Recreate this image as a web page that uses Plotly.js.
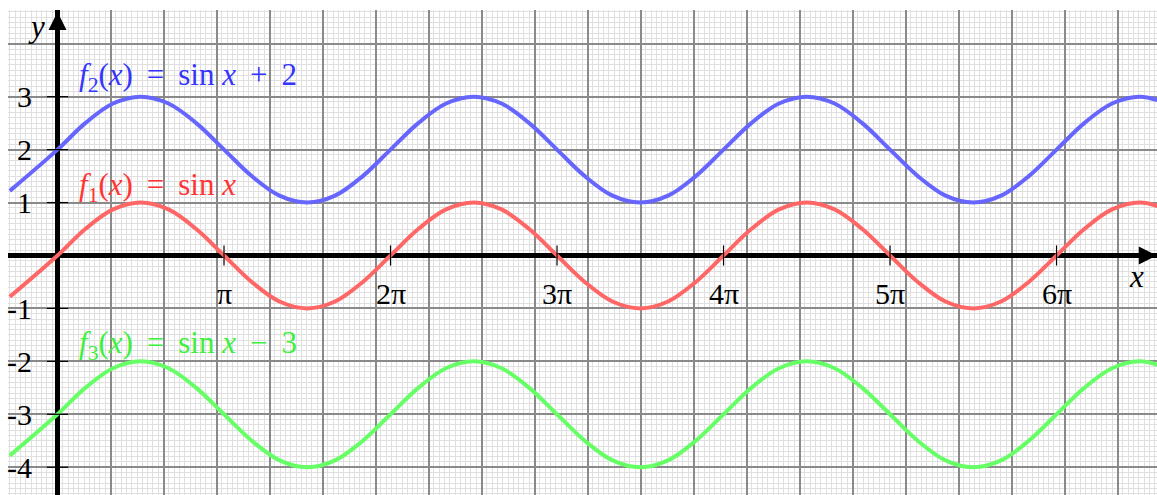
<!DOCTYPE html>
<html>
<head>
<meta charset="utf-8">
<script src="https://cdn.plot.ly/plotly-3.0.1.min.js"></script>
<style>
html,body{margin:0;padding:0;background:#fff;}
#chart{width:1157px;height:495px;}
</style>
</head>
<body>
<div id="chart"></div>
<script>
// ---- data ----
const xs = [-0.9, 0, 0.524, 1.047, 1.571, 2.094, 2.618, 3.142, 3.665, 4.189, 4.712, 5.236, 5.760,
  6.283, 6.807, 7.330, 7.854, 8.378, 8.901, 9.425, 9.948, 10.472, 10.996, 11.519, 12.043,
  12.566, 13.090, 13.614, 14.137, 14.661, 15.184, 15.708, 16.232, 16.755, 17.279, 17.802, 18.326,
  18.850, 19.373, 19.897, 20.420, 20.944];
const f1 = [-0.78, 0, 0.5, 0.87, 1, 0.87, 0.5, 0, -0.5, -0.87, -1, -0.87, -0.5,
  0, 0.5, 0.87, 1, 0.87, 0.5, 0, -0.5, -0.87, -1, -0.87, -0.5,
  0, 0.5, 0.87, 1, 0.87, 0.5, 0, -0.5, -0.87, -1, -0.87, -0.5,
  0, 0.5, 0.87, 1, 0.87];
const f2 = [1.22, 2, 2.5, 2.87, 3, 2.87, 2.5, 2, 1.5, 1.13, 1, 1.13, 1.5,
  2, 2.5, 2.87, 3, 2.87, 2.5, 2, 1.5, 1.13, 1, 1.13, 1.5,
  2, 2.5, 2.87, 3, 2.87, 2.5, 2, 1.5, 1.13, 1, 1.13, 1.5,
  2, 2.5, 2.87, 3, 2.87];
const f3 = [-3.78, -3, -2.5, -2.13, -2, -2.13, -2.5, -3, -3.5, -3.87, -4, -3.87, -3.5,
  -3, -2.5, -2.13, -2, -2.13, -2.5, -3, -3.5, -3.87, -4, -3.87, -3.5,
  -3, -2.5, -2.13, -2, -2.13, -2.5, -3, -3.5, -3.87, -4, -3.87, -3.5,
  -3, -2.5, -2.13, -2, -2.13];
const xTickVals = [3.1416, 6.2832, 9.4248, 12.5664, 15.708, 18.8496];
const xTickText = ['π', '2π', '3π', '4π', '5π', '6π'];
const yTickVals = [3, 2, 1, -1, -2, -3, -4];
const yTickText = ['3', '2', '1', '-1', '-2', '-3', '-4'];
const seriesNames = [
  '<i>f</i><sub>2</sub>(<i>x</i>)&nbsp;&#8201;=&nbsp;&#8201;sin&nbsp;<i>x</i>&nbsp;&#8201;+&nbsp;&#8201;2',
  '<i>f</i><sub>1</sub>(<i>x</i>)&nbsp;&#8201;=&nbsp;&#8201;sin&nbsp;<i>x</i>',
  '<i>f</i><sub>3</sub>(<i>x</i>)&nbsp;&#8201;=&nbsp;&#8201;sin&nbsp;<i>x</i>&nbsp;&#8201;−&nbsp;&#8201;3'];

// ---- styling ----
const FONT = 'Liberation Serif, Times New Roman, serif';
const lineColors = ['#6666ff', '#ff6666', '#66ff66'];
const textColors = ['#3535ff', '#ff3535', '#3ef03e'];
const labelPos = [[0.36, 3.38], [0.36, 1.3], [0.36, -1.7]];
const series = [f2, f1, f3];

const traces = series.map((ys, i) => ({
  x: xs, y: ys, type: 'scatter', mode: 'lines',
  line: {color: lineColors[i], width: 4, shape: 'spline', smoothing: 1},
  hoverinfo: 'skip', showlegend: false
}));

const shapes = [];
yTickVals.forEach(v => shapes.push({type: 'line', xref: 'x', yref: 'y',
  x0: -0.2, x1: 0.2, y0: v, y1: v, line: {color: '#000', width: 1.2}}));
xTickVals.forEach(v => shapes.push({type: 'line', xref: 'x', yref: 'y',
  x0: v, x1: v, y0: -0.19, y1: 0.19, line: {color: '#000', width: 1.2}}));

const annotations = [];
yTickVals.forEach((v, i) => annotations.push({x: -0.44, y: v, xref: 'x', yref: 'y',
  text: yTickText[i], showarrow: false, xanchor: 'right', yanchor: 'middle',
  font: {family: FONT, size: 30, color: '#000'}}));
xTickVals.forEach((v, i) => annotations.push({x: v, y: -0.72, xref: 'x', yref: 'y',
  text: xTickText[i], showarrow: false, xanchor: 'center', yanchor: 'middle',
  font: {family: FONT, size: 30, color: '#000'}}));
seriesNames.forEach((t, i) => annotations.push({x: labelPos[i][0], y: labelPos[i][1],
  xref: 'x', yref: 'y', text: t, showarrow: false, xanchor: 'left', yanchor: 'middle',
  font: {family: FONT, size: 31, color: textColors[i]}}));
annotations.push({x: -0.39, y: 4.32, xref: 'x', yref: 'y', text: '<i>y</i>', showarrow: false,
  xanchor: 'center', yanchor: 'middle', font: {family: FONT, size: 31, color: '#000'}});
annotations.push({x: 20.35, y: -0.4, xref: 'x', yref: 'y', text: '<i>x</i>', showarrow: false,
  xanchor: 'center', yanchor: 'middle', font: {family: FONT, size: 31, color: '#000'}});
// arrow heads
annotations.push({x: 0, y: 4.6, ax: 0, ay: 4.2, xref: 'x', yref: 'y', axref: 'x', ayref: 'y',
  text: '', showarrow: true, arrowhead: 2, arrowsize: 0.8, arrowwidth: 4.5, arrowcolor: '#000'});
annotations.push({x: 20.74, y: 0, ax: 20.3, ay: 0, xref: 'x', yref: 'y', axref: 'x', ayref: 'y',
  text: '', showarrow: true, arrowhead: 2, arrowsize: 0.8, arrowwidth: 4.5, arrowcolor: '#000'});

const axisCommon = {
  showgrid: true, gridcolor: '#8a8a8a', gridwidth: 2,
  dtick: 1, tick0: 0, showticklabels: false, ticks: '',
  zeroline: true, zerolinecolor: '#000', zerolinewidth: 5,
  showline: false, fixedrange: true,
  minor: {dtick: 0.1, tick0: 0, showgrid: true, gridcolor: '#e0e0e0', gridwidth: 1, ticks: ''}
};

const layout = {
  width: 1157, height: 495,
  margin: {l: 8, r: 0, t: 10, b: 0, pad: 0},
  paper_bgcolor: '#fff', plot_bgcolor: '#fff',
  xaxis: Object.assign({}, axisCommon, {range: [-0.934, 20.745]}),
  yaxis: Object.assign({}, axisCommon, {range: [-4.524, 4.637]}),
  shapes: shapes, annotations: annotations, showlegend: false
};

Plotly.newPlot('chart', traces, layout, {staticPlot: true, displayModeBar: false});
</script>
</body>
</html>
